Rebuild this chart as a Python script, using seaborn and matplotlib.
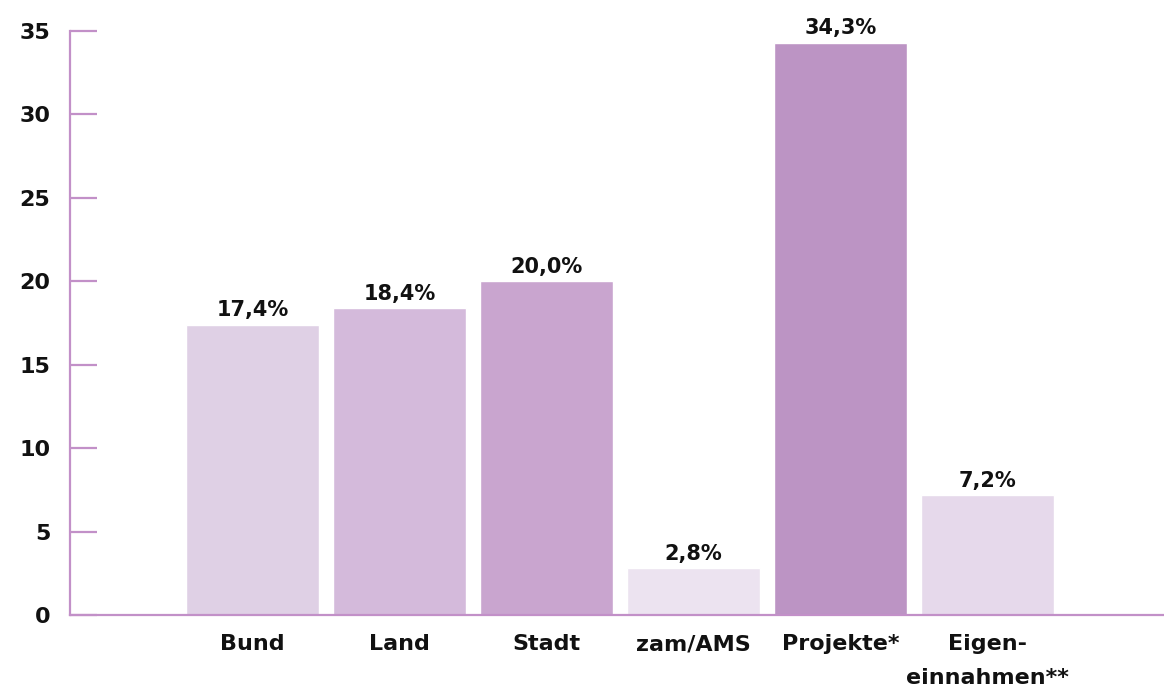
import matplotlib
matplotlib.use("Agg")
import matplotlib.pyplot as plt
import seaborn as sns
import pandas as pd

# Daten
kategorien = ['Bund', 'Land', 'Stadt', 'zam/AMS', 'Projekte*', 'Eigen-\neinnahmen**']
anteile = [17.4, 18.4, 20.0, 2.8, 34.3, 7.2]
farben = ['#dfd0e5', '#d4badb', '#c9a5cf', '#ece3f0', '#bc94c4', '#e6d9eb']
y_ticks = [0, 5, 10, 15, 20, 25, 30, 35]

df = pd.DataFrame({'kategorie': kategorien, 'anteil': anteile})

sns.set_style('white')
plt.rcParams['font.family'] = ['DejaVu Sans']
akzent = '#c290c8'

fig = plt.figure(figsize=(11.64, 6.93), dpi=100)
ax = fig.add_axes([0.060, 0.1126, 0.94, 0.8427])

sns.barplot(data=df, x='kategorie', y='anteil', hue='kategorie', palette=farben,
            legend=False, width=0.905, saturation=1, ax=ax)

for cont, v in zip(ax.containers, anteile):
    ax.bar_label(cont, labels=[f'{v:.1f}%'.replace('.', ',')], padding=3,
                 fontsize=15, fontweight='bold', color='#111111')

ax.set_xlim(-1.245, 6.2)
ax.set_ylim(0, 35)
ax.set_yticks(y_ticks)
ax.set_xlabel('')
ax.set_ylabel('')

for s in ['top', 'right']:
    ax.spines[s].set_visible(False)
for s in ['left', 'bottom']:
    ax.spines[s].set_color(akzent)
    ax.spines[s].set_linewidth(1.6)

ax.tick_params(axis='y', direction='in', length=19.5, width=1.6, color=akzent,
               labelsize=16, pad=14, left=True)
ax.tick_params(axis='x', length=0, labelsize=16, pad=14)
for lbl in ax.get_yticklabels() + ax.get_xticklabels():
    lbl.set_fontweight('bold')
    lbl.set_color('#111111')
for lbl in ax.get_xticklabels():
    lbl.set_linespacing(1.85)

fig.savefig('out.png', dpi=100)
